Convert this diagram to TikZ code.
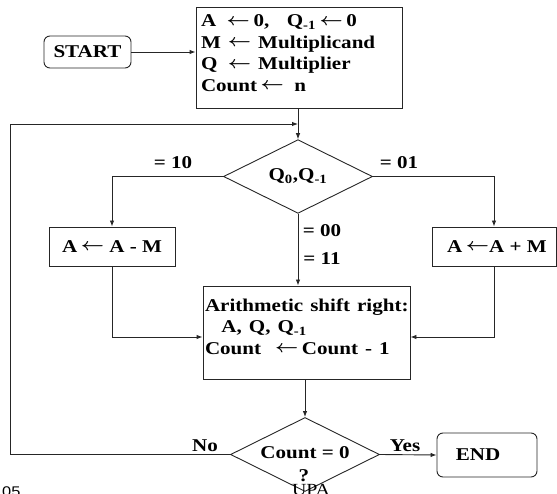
\documentclass[tikz,border=0pt]{standalone}
\usepackage{fontspec}
\usepackage{graphicx}
\setmainfont{Liberation Serif}
\newfontfamily\footsans{Liberation Sans}
\usetikzlibrary{shapes.geometric,arrows.meta,calc}
\newcommand\SX[1]{\scalebox{1.17}[1]{#1}}
\newcommand\LA{\raisebox{1.5pt}{$\leftarrow$}}
\tikzset{
  ln/.style={line width=0.9pt, draw=black!85},
  arr/.style={ln, -{Latex[length=6pt,width=4.5pt]}},
  box/.style={ln, draw, rectangle, inner sep=0pt, font=\bfseries\boldmath\fontsize{18}{21.5}\selectfont},
  rbox/.style={box, rounded corners=6pt},
  dia/.style={ln, draw, diamond, inner sep=0pt, font=\bfseries\boldmath\fontsize{18}{21.5}\selectfont},
  lab/.style={inner sep=0pt, font=\bfseries\boldmath\fontsize{18}{21.5}\selectfont},
}
\begin{document}
\begin{tikzpicture}[x=1pt,y=-1pt]
\useasboundingbox (0,0) rectangle (557,494);
% nodes
\node[rbox, minimum width=87pt, minimum height=32pt] (start) at (87.5,52) {\SX{START}};
\node[box, minimum height=101pt, text width=196pt, inner xsep=5pt, align=left] (init) at (299,57.5)
  {\SX{A\ \,\LA\,0,\ \ \,Q\textsubscript{-1}\,\LA\,0}\\
   \SX{M\ \LA\ Multiplicand}\\
   \SX{Q\ \,\LA\ Multiplier}\\
   \SX{Count\,\LA\ \,n}\rule[-9pt]{0pt}{9pt}};
\node[dia, minimum width=149pt, minimum height=67pt] (q) at (298,176.5)
  {\SX{Q\textsubscript{0},Q\textsubscript{-1}}};
\node[box, minimum width=126pt, minimum height=39pt] (sub) at (112,246.5) {\SX{A\,\LA\ A - M}};
\node[box, minimum width=124pt, minimum height=39pt] (add) at (494,246.5) {\hspace*{6pt}\SX{A\,\LA A + M}};
\node[box, minimum height=93pt, text width=203pt, inner xsep=2pt, align=left] (shift) at (306.5,332.5)
  {\SX{Arithmetic shift right:}\\
   \SX{\hspace*{14pt}A, Q, Q\textsubscript{-1}}\\
   \SX{Count \ \LA\,Count - 1}\rule[-12pt]{0pt}{12pt}};
\node[dia, minimum width=149pt, minimum height=74pt] (cnt) at (305,454.5) {};
\node[lab] (cnttext) at (305,453) {\SX{Count = 0}};
\node[lab] (qm) at (304,476) {\SX{?}};
\node[rbox, minimum width=100pt, minimum height=44pt] (end) at (487,455) {\SX{END}\hspace*{18pt}};
% labels
\node[lab] (l10) at (173,163) {\SX{= 10}};
\node[lab] (l01) at (399,163) {\SX{= 01}};
\node[lab] (l00) at (322,231) {\SX{= 00}};
\node[lab] (l11) at (322,259) {\SX{= 11}};
\node[lab] (lno) at (205,446) {\SX{No}};
\node[lab] (lyes) at (405,446) {\SX{Yes}};
\node[inner sep=0pt, anchor=north west, font=\footsans\fontsize{14}{16}\selectfont] (f05) at (2,487) {\SX{05}};
\node[inner sep=0pt, anchor=north, font=\fontsize{17}{20}\selectfont] (fupa) at (311,484) {\SX{UPA}};
% coordinates
\coordinate (join) at (298,124);
\coordinate (lp) at (10.5,124);
% connectors
\draw[arr] (start.east) -- (start.east -| init.west);
\draw[arr] (q.north |- init.south) -- (q.north);
\draw[arr] (cnt.west) -| (lp) -- (join);
\draw[arr] (q.west) -| (sub.north);
\draw[arr] (q.east) -| (add.north);
\draw[arr] (q.south) -- (q.south |- shift.north);
\draw[arr] (sub.south) |- ($(shift.west)+(0,4.5)$);
\draw[arr] (add.south) |- ($(shift.east)+(0,4.5)$);
\draw[arr] (cnt.north |- shift.south) -- (cnt.north);
\draw[arr] (cnt.east) -- (end.west);
\end{tikzpicture}
\end{document}
